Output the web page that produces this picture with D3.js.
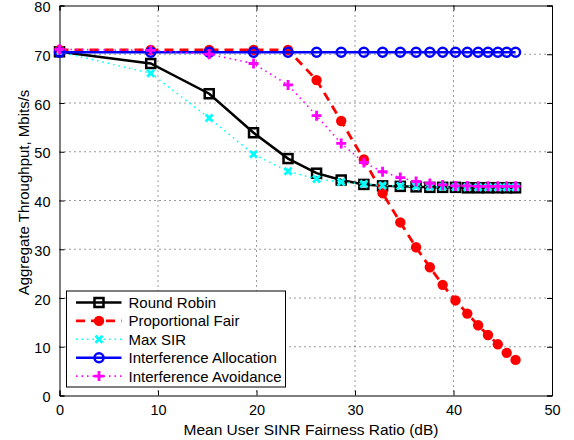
<!DOCTYPE html>
<html>
<head>
<meta charset="utf-8">
<script src="https://cdn.jsdelivr.net/npm/d3@7"></script>
<style>
  body { margin: 0; background: #fff; }
  svg text { font-family: "Liberation Sans", Arial, sans-serif; }
</style>
</head>
<body>
<div id="chart"></div>
<script>
// data
const xVals = [0, 9.26, 15.2, 19.7, 23.2, 26.1, 28.6, 30.9, 32.8, 34.6, 36.2, 37.6, 38.9, 40.2, 41.4, 42.5, 43.5, 44.5, 45.4, 46.3]
const roundRobin = [70.5, 68.1, 61.9, 53.9, 48.6, 45.6, 44.2, 43.3, 43.0, 42.9, 42.8, 42.7, 42.7, 42.7, 42.6, 42.6, 42.6, 42.6, 42.6, 42.6]
const propFair = [70.9, 70.9, 70.9, 70.9, 70.9, 64.7, 56.3, 48.4, 41.5, 35.5, 30.4, 26.3, 22.7, 19.5, 16.8, 14.4, 12.4, 10.5, 8.75, 7.3]
const maxSIR = [70.5, 66.1, 56.9, 49.5, 46.0, 44.4, 43.8, 43.4, 43.1, 43.0, 42.9, 42.8, 42.8, 42.7, 42.7, 42.7, 42.7, 42.7, 42.7, 42.7]
const intAlloc = [70.4, 70.4, 70.4, 70.4, 70.4, 70.4, 70.4, 70.4, 70.4, 70.4, 70.4, 70.4, 70.4, 70.4, 70.4, 70.4, 70.4, 70.4, 70.4, 70.4]
const intAvoid = [71.0, 70.8, 70.0, 68.1, 63.7, 57.4, 51.7, 47.8, 45.9, 44.7, 43.9, 43.5, 43.2, 43.0, 43.0, 42.9, 42.9, 42.9, 42.9, 42.9]
const seriesNames = ['Round Robin', 'Proportional Fair', 'Max SIR', 'Interference Allocation', 'Interference Avoidance']
const xTicks = [0, 10, 20, 30, 40, 50]
const yTicks = [0, 10, 20, 30, 40, 50, 60, 70, 80]

const W = 574, H = 440
const margin = {top: 5.5, right: 22, bottom: 44.5, left: 59.5}
const pw = W - margin.left - margin.right
const ph = H - margin.top - margin.bottom

const svg = d3.select('#chart').append('svg')
    .attr('width', W)
    .attr('height', H)

const g = svg.append('g')
    .attr('transform', 'translate(' + margin.left + ',' + margin.top + ')')

const x = d3.scaleLinear().domain([0, 50]).range([0, pw])
const y = d3.scaleLinear().domain([0, 80]).range([ph, 0])

// grid (dotted)
g.append('g').selectAll('line')
    .data(xTicks.slice(1, -1))
    .enter().append('line')
    .attr('x1', d => x(d)).attr('x2', d => x(d))
    .attr('y1', 0).attr('y2', ph)
    .attr('stroke', '#000').attr('stroke-width', 0.8)
    .attr('stroke-dasharray', '1,4')
g.append('g').selectAll('line')
    .data(yTicks.slice(1, -1))
    .enter().append('line')
    .attr('y1', d => y(d)).attr('y2', d => y(d))
    .attr('x1', 0).attr('x2', pw)
    .attr('stroke', '#000').attr('stroke-width', 0.8)
    .attr('stroke-dasharray', '1,4')

// axes, ticks inside like matlab
g.append('g').attr('transform', 'translate(0,' + ph + ')')
    .call(d3.axisBottom(x).tickValues(xTicks).tickSize(-5).tickPadding(9))
g.append('g')
    .call(d3.axisLeft(y).tickValues(yTicks).tickSize(-5).tickPadding(9))
    .selectAll('text').attr('dy', '0.42em')
g.append('g')
    .call(d3.axisTop(x).tickValues(xTicks).tickSize(-5).tickFormat(''))
g.append('g').attr('transform', 'translate(' + pw + ',0)')
    .call(d3.axisRight(y).tickValues(yTicks).tickSize(-5).tickFormat(''))

svg.selectAll('.domain').attr('stroke', '#000').attr('stroke-width', 1)
svg.selectAll('.tick line').attr('stroke', '#000')
svg.selectAll('.tick text').attr('font-size', 14.5).attr('fill', '#000')
    .attr('font-family', '"Liberation Sans", Arial, sans-serif')

// series
const series = [
    {name: seriesNames[0], vals: roundRobin, color: '#000000', width: 2.5, dash: null, marker: 'square'},
    {name: seriesNames[1], vals: propFair, color: '#ff0000', width: 2.8, dash: '9,6', marker: 'dot'},
    {name: seriesNames[2], vals: maxSIR, color: '#00ffff', width: 1.6, dash: '1.5,4', marker: 'x'},
    {name: seriesNames[3], vals: intAlloc, color: '#0000ff', width: 2.5, dash: null, marker: 'circle'},
    {name: seriesNames[4], vals: intAvoid, color: '#ff00ff', width: 1.6, dash: '1.5,4', marker: 'plus'}
]

const line = d3.line().x(d => x(d[0])).y(d => y(d[1]))

function drawMarker(sel, type, color) {
    if (type === 'square') {
        sel.append('rect').attr('x', -4.5).attr('y', -4.5).attr('width', 9).attr('height', 9)
            .attr('fill', 'none').attr('stroke', color).attr('stroke-width', 2.5)
    } else if (type === 'dot') {
        sel.append('circle').attr('r', 5.2).attr('fill', color)
    } else if (type === 'circle') {
        sel.append('circle').attr('r', 4.5).attr('fill', 'none')
            .attr('stroke', color).attr('stroke-width', 2.5)
    } else if (type === 'x') {
        sel.append('path').attr('d', 'M-3.5,-3.5L3.5,3.5M-3.5,3.5L3.5,-3.5')
            .attr('stroke', color).attr('stroke-width', 2.8).attr('fill', 'none')
    } else if (type === 'plus') {
        sel.append('path').attr('d', 'M-5,0L5,0M0,-5L0,5')
            .attr('stroke', color).attr('stroke-width', 2.8).attr('fill', 'none')
    }
}

series.forEach(s => {
    const pts = xVals.map((xv, i) => [xv, s.vals[i]])
    g.append('path')
        .datum(pts)
        .attr('d', line)
        .attr('fill', 'none')
        .attr('stroke', s.color)
        .attr('stroke-width', s.width)
        .attr('stroke-dasharray', s.dash)
    g.append('g').selectAll('g')
        .data(pts)
        .enter().append('g')
        .attr('transform', d => 'translate(' + x(d[0]) + ',' + y(d[1]) + ')')
        .each(function() { drawMarker(d3.select(this), s.marker, s.color) })
})

// legend
const lg = svg.append('g').attr('transform', 'translate(66.5,291)')
lg.append('rect').attr('width', 219).attr('height', 96)
    .attr('fill', '#fff').attr('stroke', '#000').attr('stroke-width', 1)
series.forEach((s, i) => {
    const row = lg.append('g').attr('transform', 'translate(0,' + (11.5 + i * 18.4) + ')')
    row.append('line').attr('x1', 9.5).attr('x2', 55)
        .attr('stroke', s.color).attr('stroke-width', s.width)
        .attr('stroke-dasharray', s.dash)
    drawMarker(row.append('g').attr('transform', 'translate(32.5,0)'), s.marker, s.color)
    row.append('text').attr('x', 62).attr('y', 5.5)
        .attr('font-size', 15).text(s.name)
})

// axis labels
svg.append('text')
    .attr('x', 311).attr('y', 435)
    .attr('text-anchor', 'middle').attr('font-size', 15.5)
    .text('Mean User SINR Fairness Ratio (dB)')
svg.append('text')
    .attr('transform', 'translate(29,192.5) rotate(-90)')
    .attr('text-anchor', 'middle').attr('font-size', 15)
    .text('Aggregate Throughput, Mbits/s')
</script>
</body>
</html>
